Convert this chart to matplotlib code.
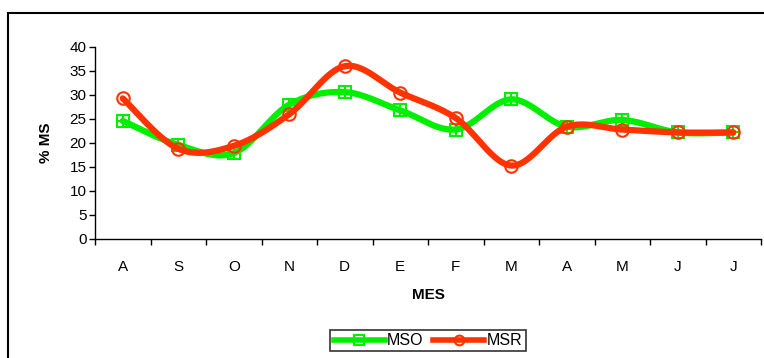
import numpy as np
import matplotlib.pyplot as plt
from matplotlib.patches import Rectangle
from matplotlib.lines import Line2D

plt.rcParams['font.family'] = ['Liberation Sans', 'DejaVu Sans']

months = ['A', 'S', 'O', 'N', 'D', 'E', 'F', 'M', 'A', 'M', 'J', 'J']
mso = [24.6, 19.6, 17.9, 28.0, 30.6, 26.8, 22.8, 29.1, 23.4, 24.8, 22.2, 22.2]
msr = [29.3, 18.8, 19.4, 26.0, 36.0, 30.5, 25.2, 15.3, 23.4, 22.8, 22.2, 22.2]

green = '#00ee00'
red = '#ff3300'


def smooth(y, n=30):
    # Catmull-Rom style smoothing (like Excel's "smoothed line")
    y = np.asarray(y, float)
    x = np.arange(len(y), dtype=float)
    px = np.concatenate([[x[0]], x, [x[-1]]])
    py = np.concatenate([[y[0]], y, [y[-1]]])
    xs, ys = [], []
    for i in range(1, len(px) - 2):
        p0, p1, p2, p3 = [np.array([px[j], py[j]]) for j in range(i - 1, i + 3)]
        c1 = p1 + (p2 - p0) / 6
        c2 = p2 - (p3 - p1) / 6
        t = np.linspace(0, 1, n)[:, None]
        b = (1 - t) ** 3 * p1 + 3 * (1 - t) ** 2 * t * c1 + 3 * (1 - t) * t ** 2 * c2 + t ** 3 * p2
        xs.extend(b[:, 0])
        ys.extend(b[:, 1])
    return np.array(xs), np.array(ys)


fig = plt.figure(figsize=(7.64, 3.58), dpi=100)
fig.patches.append(Rectangle((8 / 764, -0.1), 1.0, 1 - 13 / 358 + 0.1, transform=fig.transFigure,
                             fill=False, edgecolor='black', linewidth=1.5))
ax = fig.add_axes([95 / 764, 1 - 239 / 358, 666 / 764, 192 / 358])

x = np.arange(len(months))
for vals, col, mk in [(mso, green, 's'), (msr, red, 'o')]:
    sx, sy = smooth(vals)
    ax.plot(sx, sy, color=col, linewidth=4.5, solid_capstyle='round', zorder=3)
    ax.plot(x, vals, linestyle='none', marker=mk, markersize=9, markerfacecolor='none',
            markeredgecolor=col, markeredgewidth=1.5, zorder=3)
    if mk == 's':
        ax.plot(x, vals, linestyle='none', marker='+', markersize=9, color=col,
                markeredgewidth=1.5, zorder=3)

ax.set_xlim(-0.5, len(months) - 0.5)
ax.set_ylim(0, 40)
ax.set_yticks(range(0, 41, 5))
ax.set_xticks(x)
ax.set_xticklabels(months)
ax.set_xticks(np.arange(-0.5, len(months), 1), minor=True)
ax.tick_params(axis='x', which='major', length=0, pad=15, labelsize=11)
ax.tick_params(axis='x', which='minor', length=4, width=1)
ax.tick_params(axis='y', length=4, width=1, labelsize=11, pad=2)
for s in ['top', 'right']:
    ax.spines[s].set_visible(False)
ax.spines['left'].set_linewidth(1)
ax.spines['bottom'].set_linewidth(1)

ax.set_ylabel('% MS', fontsize=11, fontweight='bold', labelpad=12)
ax.set_xlabel('MES', fontsize=11, fontweight='bold', labelpad=10)

handles = [
    Line2D([], [], color=green, linewidth=4, marker='s', markersize=7, markerfacecolor='none',
           markeredgecolor=green, markeredgewidth=1.5),
    Line2D([], [], color=red, linewidth=4, marker='o', markersize=7, markerfacecolor='none',
           markeredgecolor=red, markeredgewidth=1.5),
]
leg = fig.legend(handles, ['MSO', 'MSR'], loc='upper center', bbox_to_anchor=(428 / 764, 1 - 330 / 358),
                 ncol=2, fontsize=11.5, frameon=True, fancybox=False, edgecolor='black',
                 handlelength=3.2, handletextpad=0.15, columnspacing=0.6, borderpad=0.2,
                 borderaxespad=0)
leg.get_frame().set_linewidth(1.2)

fig.savefig('out.png', dpi=100)
